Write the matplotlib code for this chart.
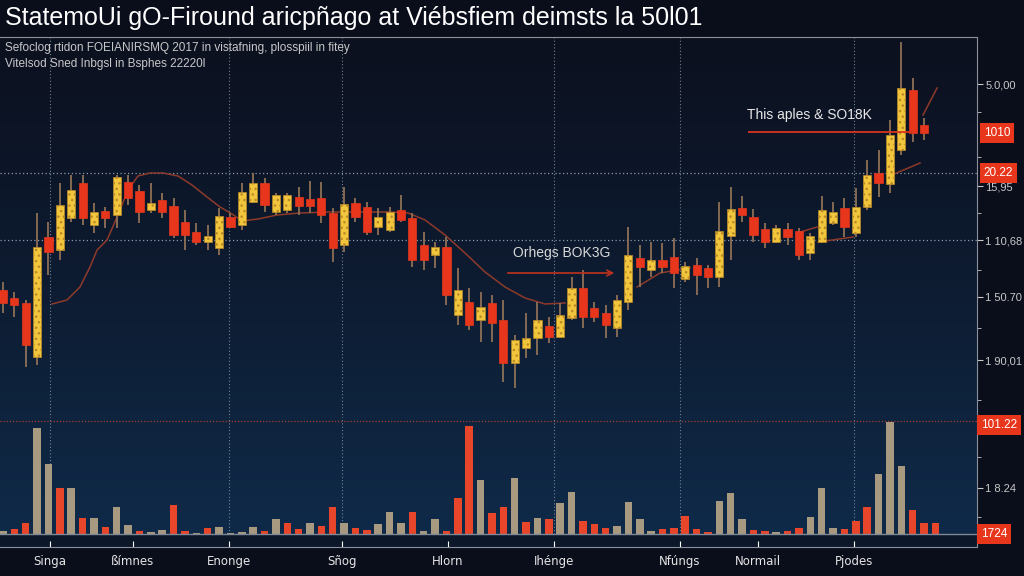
import numpy as np
import matplotlib
matplotlib.use('Agg')
import matplotlib.pyplot as plt
import matplotlib.transforms as mtransforms

# testi (gibberish come nell'originale)
title = 'StatemoUi gO-Firound aricpñago at Viébsfiem deimsts la 50l01'
subtitle = ['Sefoclog rtidon FOEIANIRSMQ 2017 in vistafning, plosspiil in fitey',
            'Vitelsod Sned Inbgsl in Bsphes 22220l']

# candele (OHLC)
opens = [131, 123, 118, 64, 184, 171, 203, 238, 196, 210, 206, 239, 230, 211, 221, 215,
         199, 189, 179, 173, 204, 196, 219, 238, 209, 211, 224, 222, 223, 208, 176, 218,
         214, 194, 191, 211, 203, 176, 166, 174, 106, 119, 101, 118, 101, 58, 73, 83,
         95, 84, 103, 133, 113, 108, 93, 119, 163, 151, 161, 164, 142, 156, 153, 144,
         185, 213, 204, 192, 179, 192, 190, 168, 179, 198, 213, 188, 214, 248, 237, 271,
         331, 296]
closes = [118, 116, 76, 174, 169, 216, 231, 203, 209, 203, 244, 223, 209, 218, 209, 186,
          186, 179, 185, 205, 194, 229, 238, 216, 226, 226, 215, 215, 206, 173, 217, 204,
          189, 204, 209, 201, 161, 161, 174, 126, 131, 96, 114, 98, 58, 81, 83, 101,
          84, 106, 133, 104, 104, 96, 121, 166, 154, 161, 154, 148, 155, 146, 144, 190,
          212, 206, 186, 179, 193, 184, 166, 185, 211, 209, 194, 214, 246, 238, 286, 333,
          288, 288]
highs = [139, 129, 121, 208, 199, 238, 246, 246, 218, 214, 246, 246, 236, 238, 228, 223,
         211, 198, 196, 213, 208, 238, 248, 243, 228, 228, 234, 240, 239, 213, 234, 223,
         219, 213, 214, 226, 208, 189, 179, 184, 153, 133, 129, 126, 121, 86, 108, 119,
         104, 118, 144, 151, 119, 116, 126, 194, 176, 179, 178, 183, 159, 163, 156, 219,
         234, 225, 212, 198, 196, 198, 193, 188, 225, 219, 223, 233, 261, 271, 301, 379,
         343, 303]
lows = [108, 104, 54, 56, 146, 161, 199, 196, 188, 193, 193, 216, 198, 208, 203, 183,
        171, 176, 171, 166, 193, 191, 218, 209, 206, 208, 206, 208, 198, 159, 169, 199,
        186, 186, 189, 199, 154, 151, 153, 116, 96, 91, 79, 79, 39, 33, 63, 66,
        78, 83, 101, 93, 99, 83, 84, 111, 134, 144, 148, 133, 139, 126, 133, 134,
        161, 199, 179, 173, 178, 176, 161, 161, 178, 196, 184, 184, 211, 224, 228, 266,
        279, 281]

# volumi
volumes = [3, 5, 11, 106, 70, 46, 46, 16, 16, 7, 27, 9, 3, 2, 4, 29, 3, 1, 6, 7, 1, 2, 7,
           3, 15, 11, 5, 11, 8, 27, 11, 6, 4, 10, 22, 11, 22, 3, 15, 3, 36, 108, 54, 21,
           27, 56, 12, 16, 15, 31, 42, 13, 10, 6, 8, 32, 15, 3, 5, 6, 18, 5, 2, 33, 41,
           15, 4, 3, 2, 3, 6, 17, 46, 6, 5, 13, 27, 60, 112, 68, 24, 11, 11]
vol_up = [1, 0, 0, 1, 1, 0, 1, 0, 1, 0, 1, 1, 0, 1, 1, 0, 0, 1, 0, 1, 1, 1, 1,
          0, 1, 0, 0, 1, 0, 0, 1, 0, 0, 1, 1, 1, 0, 1, 1, 0, 0, 0, 1, 0,
          0, 1, 0, 1, 0, 1, 1, 0, 0, 0, 1, 1, 1, 1, 0, 0, 0, 0, 0, 1, 1,
          1, 0, 0, 1, 0, 0, 1, 1, 1, 0, 0, 0, 1, 1, 1, 0, 0, 0]

# media mobile (spezzata, nan = interruzione)
ma_x = [4.31, 5.63, 6.77, 7.65, 8.27, 9.15, 10.11, 10.99, 11.87, 12.93, 14.07, 15.39,
        16.62, 17.94, 19.09, 20.14, 21.02, 22.43, 24.10, 26.12, 28.76, 31.40, 34.04,
        35.62, 37.12, 38.87, 40.63, 42.39, 44.15, 45.91, 47.67, 49.43, np.nan,
        55.76, 57.78, 60.42, np.nan, 69.83, 71.59, np.nan, 71.68, 74.76, np.nan,
        77.75, 80.65, np.nan, 80.91, 82.15]
ma_y = [117, 121, 134, 154, 171, 181, 206, 231, 245, 248, 248, 245, 236, 224, 214, 207,
        200, 202, 206, 208, 209, 209, 209, 208, 201, 186, 168, 149, 134, 123, 117, 118,
        np.nan, 134, 148, 153, np.nan, 188, 194, np.nan, 179, 184, np.nan, 244, 258,
        np.nan, 306, 333]

x_ticks = [4.13, 11.43, 19.88, 29.82, 39.14, 48.46, 59.54, 66.40, 74.85]
x_labels = ['Singa', 'ßímnes', 'Enonge', 'Sñog', 'Hlorn', 'Ihénge', 'Nfúngs', 'Normail', 'Pjodes']
vgrid = [4.13, 19.88, 29.82, 48.46, 59.54, 74.85]

price_ticks = [337, 235, 181, 124, 61]
price_labels = ['5.0,00', '15,95', '1 10,68', '1 50.70', '1 90,01']
price_minor = [309, 264, 208, 151, 93, 21]
vol_ticks = [46]
vol_labels = ['1 8.24']
vol_minor = [77, 17]

W, H = 1024, 576
BG = '#0a0d1a'
YEL = '#f1c63c'
RED = '#e8361d'
TAN = '#a89a80'
GRID = '#8a9cab'


def box(l, t, r, b):
    return [l / W, 1 - b / H, (r - l) / W, (b - t) / H]


fig = plt.figure(figsize=(W / 100, H / 100), dpi=100, facecolor=BG)
plt.rcParams['hatch.linewidth'] = 1.0

# sfondo sfumato
bg = fig.add_axes(box(0, 37, 977, 547))
grad = np.linspace(0, 1, 256).reshape(-1, 1)
top = np.array([0x0c, 0x11, 0x20]) / 255
bot = np.array([0x0f, 0x2b, 0x4a]) / 255
img = top + (bot - top) * grad[..., None] ** 1.2
bg.imshow(img, aspect='auto', extent=[0, 1, 0, 1], origin='upper')
bg.axis('off')

xlim = (-0.264, 85.66)

# pannello prezzi
ax = fig.add_axes(box(0, 37, 977, 418))
ax.set_facecolor('none')
ax.set_xlim(*xlim)
ax.set_ylim(3, 384)
x = np.arange(len(opens))
o = np.array(opens); c = np.array(closes)
up = c >= o
ax.vlines(x, lows, highs, color='#8e7055', lw=1.3, zorder=3)
ax.bar(x[up], (c - o)[up], bottom=o[up], width=0.72, color=YEL, edgecolor='#b98a28',
       hatch='...', lw=0.5, zorder=4)
ax.bar(x[~up], (o - c)[~up], bottom=c[~up], width=0.72, color=RED, edgecolor=RED,
       lw=0.5, zorder=4)
ax.plot(ma_x, ma_y, color='#8e3a2a', lw=1.1, zorder=2)

for g in [248, 181]:
    ax.axhline(g, color=GRID, lw=0.9, ls=(0, (1, 2)), zorder=1)
for v in vgrid:
    ax.axvline(v, color=GRID, lw=0.8, ls=(0, (1, 2)), alpha=0.8, zorder=1)

ax.hlines(289, 65.5, 80, color='#d8341e', lw=1.3, zorder=5)
ax.text(70.9, 306, 'This aples & SO18K', color='#e8e8e8', fontsize=10,
        ha='center', va='center', family='Liberation Sans')
ax.annotate('', xy=(54.0, 148), xytext=(44.15, 148),
            arrowprops=dict(arrowstyle='->', color='#c0321e', lw=1.2), zorder=5)
ax.text(49.1, 168, 'Orhegs BOK3G', color='#d8d8d8', fontsize=10,
        ha='center', va='center', family='Liberation Sans')

for s in ['left', 'bottom']:
    ax.spines[s].set_visible(False)
for s in ['top', 'right']:
    ax.spines[s].set_color('#8a909c')
ax.set_xticks([])
ax.yaxis.tick_right()
ax.set_yticks(price_ticks)
ax.set_yticklabels(price_labels, family='Liberation Sans')
ax.set_yticks(price_minor, minor=True)
ax.tick_params(axis='y', which='both', colors='#c8c8c8', labelsize=8, length=4,
               direction='out', pad=2)
ax.tick_params(axis='y', which='minor', length=3)

# etichette rosse sull'asse
trans = mtransforms.blended_transform_factory(ax.transAxes, ax.transData)
for yv, lab in [(288, '1010'), (248, '20.22')]:
    ax.text(1.007, yv, lab, transform=trans, color='white', fontsize=8.5,
            va='center', ha='left', clip_on=False, family='Liberation Sans',
            bbox=dict(boxstyle='square,pad=0.35', fc=RED, ec='none'))

# pannello volumi
vx = fig.add_axes(box(0, 418, 977, 547))
vx.set_facecolor('none')
vx.set_xlim(*xlim)
vx.set_ylim(-13, 116)
vol = np.array(volumes); vu = np.array(vol_up, dtype=bool)
xv = np.arange(len(volumes))
vx.bar(xv[vu], vol[vu], width=0.66, color=TAN, zorder=3)
vx.bar(xv[~vu], vol[~vu], width=0.66, color='#e8462a', zorder=3)
vx.axhspan(-13, 0, color='#0c1829', zorder=1)
vx.axhline(0, color='#7f8898', lw=1.0, zorder=4)
vx.axhline(113, color='#a8402c', lw=0.9, ls=(0, (1, 1.5)), zorder=2)
for v in vgrid:
    vx.axvline(v, 0.1, 1, color=GRID, lw=0.8, ls=(0, (1, 2)), alpha=0.8, zorder=1)

for s in ['left', 'top']:
    vx.spines[s].set_visible(False)
for s in ['bottom', 'right']:
    vx.spines[s].set_color('#8a909c')
vx.set_xticks(x_ticks)
vx.set_xticklabels(x_labels, family='DejaVu Sans')
vx.tick_params(axis='x', colors='white', labelsize=8.5, length=4, direction='in',
               pad=6, labelcolor='#e6e6e6')
vx.yaxis.tick_right()
vx.set_yticks(vol_ticks)
vx.set_yticklabels(vol_labels, family='Liberation Sans')
vx.set_yticks(vol_minor, minor=True)
vx.tick_params(axis='y', which='both', colors='#c8c8c8', labelsize=8, length=4,
               direction='out', pad=2)
vx.tick_params(axis='y', which='minor', length=3)
vtrans = mtransforms.blended_transform_factory(vx.transAxes, vx.transData)
for yv, lab in [(109, '101.22'), (0, '1724')]:
    vx.text(1.004, yv, lab, transform=vtrans, color='white', fontsize=8.5,
            va='center', ha='left', clip_on=False, family='Liberation Sans',
            bbox=dict(boxstyle='square,pad=0.35', fc=RED, ec='none'))

# titolo e sottotitolo
fig.text(5 / W, 1 - 18 / H, title, color='white', fontsize=18, va='center',
         family='Liberation Sans')
fig.text(5 / W, 1 - 48 / H, subtitle[0], color='#c8c8c8', fontsize=8.5, va='center',
         family='Liberation Sans')
fig.text(5 / W, 1 - 64 / H, subtitle[1], color='#c8c8c8', fontsize=8.5, va='center',
         family='Liberation Sans')

fig.savefig('out.png', dpi=100, facecolor=BG)
